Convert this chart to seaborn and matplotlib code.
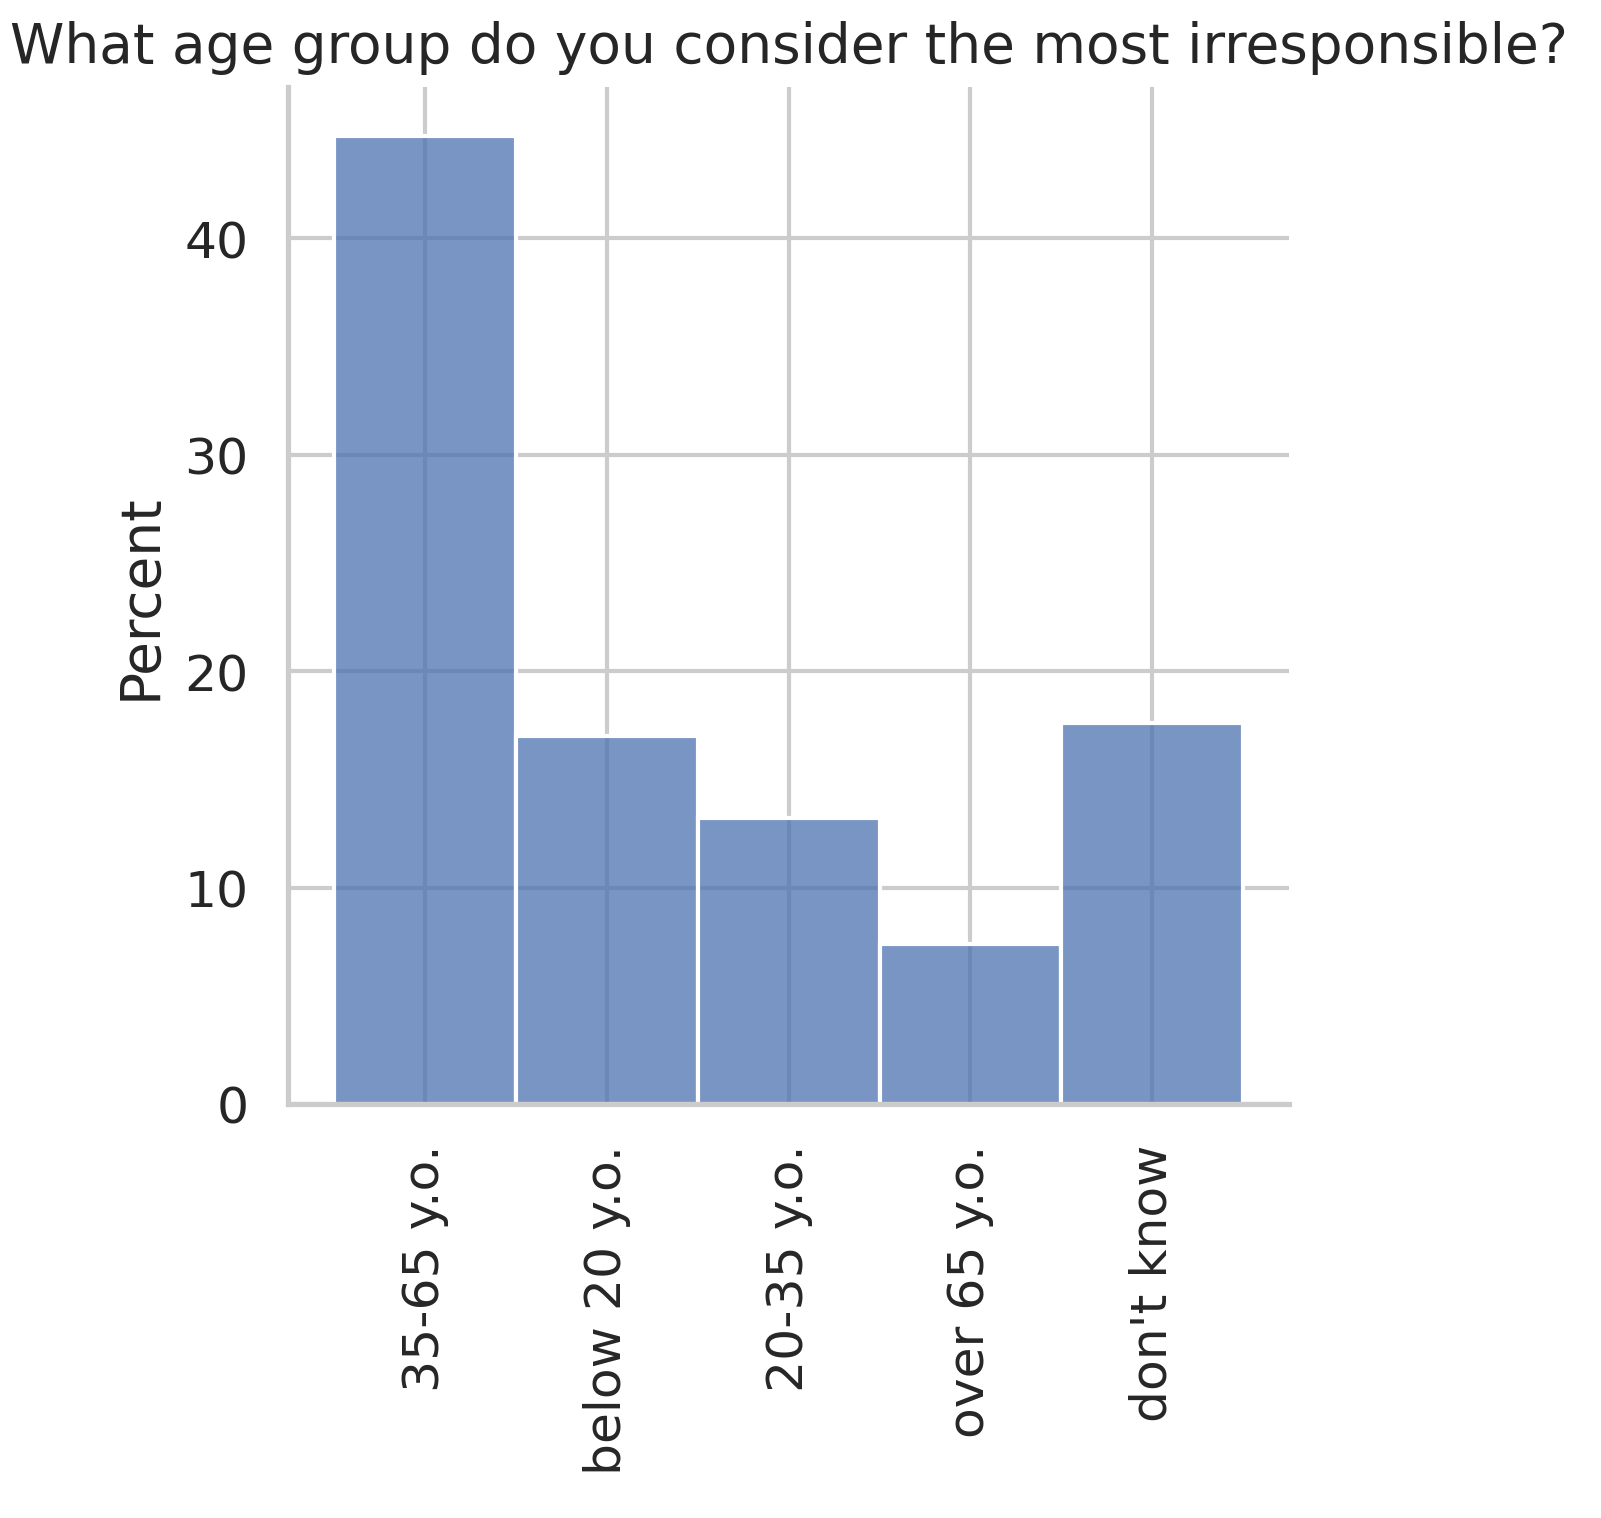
import pandas as pd
import matplotlib
matplotlib.use("Agg")
import matplotlib.pyplot as plt
import seaborn as sns

sns.set_theme(style="whitegrid", font_scale=1.1)

# Survey answers and their share (percent)
answers = ["35-65 y.o.", "below 20 y.o.", "20-35 y.o.", "over 65 y.o.", "don't know"]
shares = [44.7, 17.0, 13.2, 7.4, 17.6]

df = pd.DataFrame({"answer": answers, "share": shares})
df["answer"] = pd.Categorical(df["answer"], categories=answers, ordered=True)

fig, ax = plt.subplots(figsize=(5.337, 5.063), dpi=300)
sns.histplot(data=df, x="answer", weights="share", stat="percent",
             discrete=True, shrink=1, ax=ax)
ax.set_xlabel("")
ax.set_ylabel("Percent")
ax.set_title("What age group do you consider the most irresponsible?")
ax.tick_params(axis="x", rotation=90)
sns.despine(ax=ax)

fig.subplots_adjust(left=0.18, right=0.805, top=0.942, bottom=0.2725)
fig.savefig("out.png", dpi=300)
